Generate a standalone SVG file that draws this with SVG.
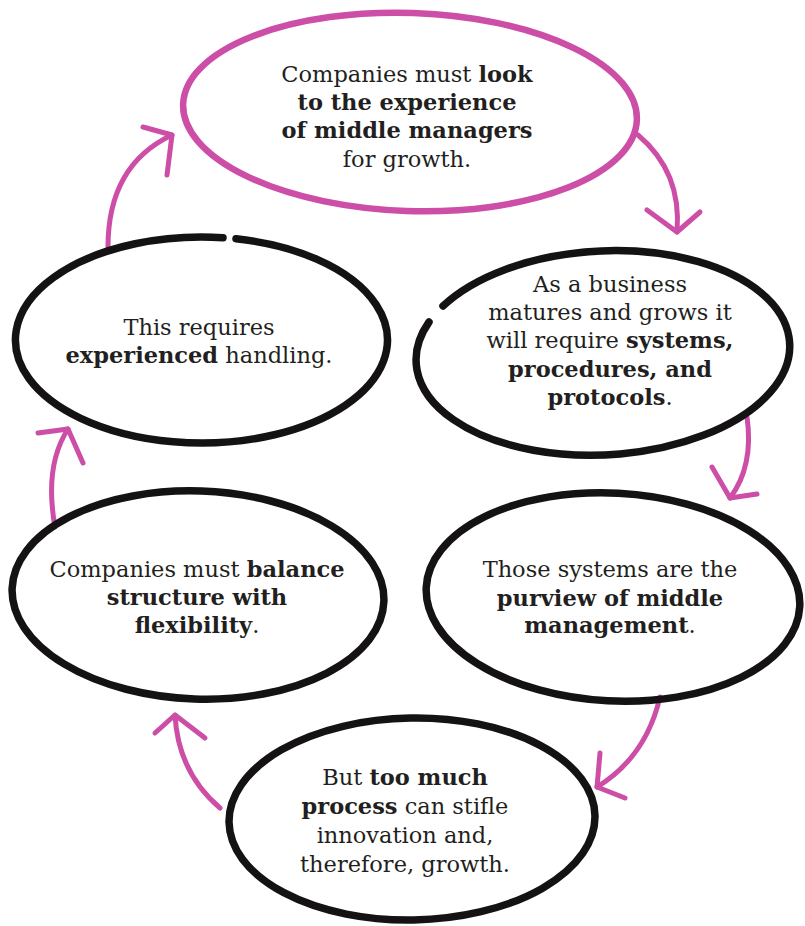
<svg xmlns="http://www.w3.org/2000/svg" width="805" height="926" viewBox="0 0 805 926">
<style>
.bg{fill:#ffffff}
.blk{fill:none;stroke:#141213;stroke-width:7.5;stroke-linecap:round}
.pnk{fill:none;stroke:#cc4ea6;stroke-width:6.5;stroke-linecap:round}
.arr{fill:none;stroke:#cc4ea6;stroke-width:5;stroke-linecap:round;stroke-linejoin:round}
text{font-family:"DejaVu Serif","Liberation Serif",serif;font-size:22.5px;fill:#231f20;text-anchor:middle}
.b{font-weight:bold}
</style>
<rect class="bg" x="0" y="0" width="805" height="926"/>
<g id="connectors">
  <path class="arr" d="M638 135 Q682 172 677 232"/>
  <path class="arr" d="M647 210 L677 232 L700 212"/>
  <path class="arr" d="M747 417 Q754 466 730 498"/>
  <path class="arr" d="M712 467 L730 498 L757 494"/>
  <path class="arr" d="M660 697 Q646 757 597 787"/>
  <path class="arr" d="M600 753 L597 787 L625 798"/>
  <path class="arr" d="M220 808 Q178 772 175 715"/>
  <path class="arr" d="M155 733 L175 715 L205 738"/>
  <path class="arr" d="M55 527 Q44 466 68 429"/>
  <path class="arr" d="M38 433 L68 429 L83 463"/>
  <path class="arr" d="M108 247 Q108 165 172 135"/>
  <path class="arr" d="M143 127 L172 135 L167 175"/>
</g>
<g id="node-top">
  <ellipse class="pnk" cx="410" cy="112" rx="227" ry="99" transform="rotate(2 410 112)"/>
  <text x="407" y="82">Companies must <tspan class="b">look</tspan></text>
  <text x="407" y="110" class="b">to the experience</text>
  <text x="407" y="138" class="b">of middle managers</text>
  <text x="407" y="167">for growth.</text>
</g>
<g id="node-right">
  <path class="blk" d="M443 306 A187 102 -3 1 1 429 322" transform="translate(0 0)"/>
  <text x="610" y="292">As a business</text>
  <text x="610" y="320">matures and grows it</text>
  <text x="610" y="348">will require <tspan class="b">systems,</tspan></text>
  <text x="610" y="377" class="b">procedures, and</text>
  <text x="610" y="405"><tspan class="b">protocols</tspan>.</text>
</g>
<g id="node-left">
  <path class="blk" d="M236 238.8 A186 103 0 1 1 223 237.7"/>
  <text x="199" y="335">This requires</text>
  <text x="199" y="363"><tspan class="b">experienced</tspan> handling.</text>
</g>
<g id="node-midright">
  <ellipse class="blk" cx="613" cy="597" rx="187" ry="104" transform="rotate(3 613 597)"/>
  <text x="610" y="577">Those systems are the</text>
  <text x="610" y="606" class="b">purview of middle</text>
  <text x="610" y="633"><tspan class="b">management</tspan>.</text>
</g>
<g id="node-midleft">
  <ellipse class="blk" cx="198" cy="595" rx="186" ry="104" transform="rotate(2 198 595)"/>
  <text x="197" y="577">Companies must <tspan class="b">balance</tspan></text>
  <text x="197" y="605" class="b">structure with</text>
  <text x="197" y="633"><tspan class="b">flexibility</tspan>.</text>
</g>
<g id="node-bottom">
  <ellipse class="blk" cx="412" cy="819" rx="183" ry="101" transform="rotate(-1 412 819)"/>
  <text x="405" y="785">But <tspan class="b">too much</tspan></text>
  <text x="405" y="814"><tspan class="b">process</tspan> can stifle</text>
  <text x="405" y="843">innovation and,</text>
  <text x="405" y="872">therefore, growth.</text>
</g>
</svg>
